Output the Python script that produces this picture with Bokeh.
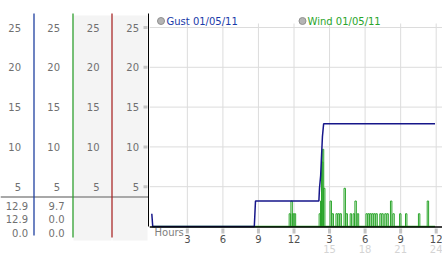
from bokeh.plotting import figure
from bokeh.layouts import row
from bokeh.models import Range1d
from bokeh.core.properties import value
from bokeh.embed import file_html
from bokeh.resources import INLINE

# ---------------- data ----------------
y_ticks = [5, 10, 15, 20, 25]
x_ticks = [3, 6, 9, 12, 15, 18, 21, 24]
x_tick_labels = ["3", "6", "9", "12", "3", "6", "9", "12"]
next_day_ticks = [15, 18, 21, 24]
next_day_labels = ["15", "18", "21", "24"]
series_names = ["Gust 01/05/11", "Wind 01/05/11"]
gust_stats = ["12.9", "12.9", "0.0"]
wind_stats = ["9.7", "0.0", "0.0"]

gust_hours = [0.0, 0.08, 8.65, 8.7, 8.75, 14.1, 14.15, 14.25, 14.3, 14.4, 14.5, 23.9]
gust_mph = [1.6, 0.0, 0.0, 1.6, 3.2, 3.2, 4.8, 6.4, 8.1, 11.3, 12.9, 12.9]

wind_span_hours = [0.0, 23.9]
wind_hours = [11.65, 11.8, 11.92, 12.08,
              14.18, 14.3, 14.38, 14.45, 14.55,
              15.1, 15.27, 15.6, 15.77, 15.94, 16.28, 16.45, 16.8, 17.05, 17.2, 17.4,
              18.13, 18.3, 18.46, 18.63, 18.8, 18.97, 19.3, 19.47, 19.72, 19.9,
              20.2, 20.4, 20.97, 21.47, 22.56, 23.3]
wind_mph = [1.6, 3.2, 1.6, 1.6,
            1.6, 3.2, 8.1, 9.7, 4.8,
            3.2, 1.6, 1.6, 1.6, 1.6, 4.8, 1.6, 1.6, 1.6, 3.2, 1.6,
            1.6, 1.6, 1.6, 1.6, 1.6, 1.6, 1.6, 1.6, 1.6, 1.6,
            3.2, 1.6, 1.6, 1.6, 1.6, 3.2]

# ---------------- layout constants ----------------
FONT = value("DejaVu Sans")
FS = "10px"
PXU = 7.96        # pixels per mph
BASE = 226        # pixel row of 0 mph
FIG_H = 253
FIG_W = 442
LEFT_W = 149
HOUR0 = 151.3     # pixel column of hour 0
PXH = 11.85       # pixels per hour
TOP = 23

GUST_C = "#16168a"
WIND_C = "#2aa52a"
TICK_MARK_C = "#c4c4c4"


def py(pix):
    return (BASE - pix) / PXU


def hx(pix):
    return (pix - HOUR0) / PXH


def txt(fig, x, y, text, color, align="center", size=FS):
    fig.text(x=x, y=y, text=text, text_align=align, text_baseline="middle",
             text_font=FONT, text_font_size=size, text_color=color)


common = dict(height=FIG_H, x_axis_location=None, y_axis_location=None,
              toolbar_location=None, output_backend="svg", min_border=0,
              outline_line_color=None, y_range=Range1d(py(FIG_H), py(0)))

# ---------------- left panel ----------------
left = figure(width=LEFT_W, x_range=Range1d(0, LEFT_W), **common)
left.grid.visible = False

left.quad(left=[73, 112], right=[111, 147], bottom=py(240), top=py(15),
          fill_color="#f4f4f4", line_color=None)
left.segment(x0=0, y0=py(196.5), x1=148, y1=py(196.5), line_color="#a8a8a8", line_width=2)

col_x = [33.5, 72.5, 111.5]
col_colors = ["#2040a0", "#2e9e2e", "#a82828"]
col_bottom = [235, 237, 237]
left.segment(x0=col_x, y0=[py(13)] * 3, x1=col_x, y1=[py(b) for b in col_bottom],
             line_color=col_colors, line_width=1.3)
left.segment(x0=148.5, y0=py(13), x1=148.5, y1=py(226), line_color="black", line_width=2)

label_right = [20.5, 59.5, 99, 138.5]
lx, ly, lt = [], [], []
for r in label_right:
    for t in y_ticks:
        lx.append(r)
        ly.append(t)
        lt.append(str(t))
txt(left, lx, ly, lt, "#707070", align="right")
left.segment(x0=[143] * len(y_ticks), y0=y_ticks, x1=[147] * len(y_ticks), y1=y_ticks,
             line_color=TICK_MARK_C, line_width=3)

stat_rows = [py(205), py(218.5), py(232)]
txt(left, [27.5] * 3 + [64] * 3, stat_rows * 2, gust_stats + wind_stats, "#707070",
    align="right")

# ---------------- main chart ----------------
main = figure(width=FIG_W - LEFT_W, x_range=Range1d(hx(LEFT_W), hx(FIG_W)), **common)
main.grid.visible = False

y_top = py(TOP)
x_left, x_right = hx(LEFT_W), hx(FIG_W)
# grid
main.segment(x0=x_ticks, y0=[0] * len(x_ticks), x1=x_ticks, y1=[y_top] * len(x_ticks),
             line_color="#dcdcdc", line_width=1)
main.segment(x0=[x_left] * len(y_ticks), y0=y_ticks, x1=[x_right] * len(y_ticks),
             y1=y_ticks, line_color="#dcdcdc", line_width=1)

# series
main.line(x=wind_span_hours, y=[0, 0], line_color=WIND_C, line_width=1.3)
main.vbar(x=wind_hours, top=wind_mph, bottom=0, width=0.12, fill_color=None,
          line_color=WIND_C, line_width=1)
main.line(x=gust_hours, y=gust_mph, line_color=GUST_C, line_width=1.5)

# x axis
main.segment(x0=x_left, y0=py(226.5), x1=x_right, y1=py(226.5), line_color="black",
             line_width=1.5)
main.segment(x0=x_ticks, y0=[py(228)] * len(x_ticks), x1=x_ticks,
             y1=[py(233)] * len(x_ticks), line_color=TICK_MARK_C, line_width=3)
txt(main, x_ticks, [py(238.5)] * len(x_ticks), x_tick_labels, "#505050")
txt(main, next_day_ticks, [py(248)] * len(next_day_ticks), next_day_labels, "#d4d4d4")
txt(main, [hx(154)], [py(232)], ["Hours"], "#808080", align="left")

# legend
main.scatter(x=[hx(160.5), hx(302)], y=[py(20.5)] * 2, size=7, marker="circle",
             fill_color="#b4b4b4", line_color="#909090", line_width=1)
txt(main, [hx(166), hx(307)], [py(20.5)] * 2, series_names,
    ["#1a3aa8", WIND_C], align="left")

layout = row(left, main, spacing=0)
open("out.html", "w").write(file_html(layout, INLINE))
